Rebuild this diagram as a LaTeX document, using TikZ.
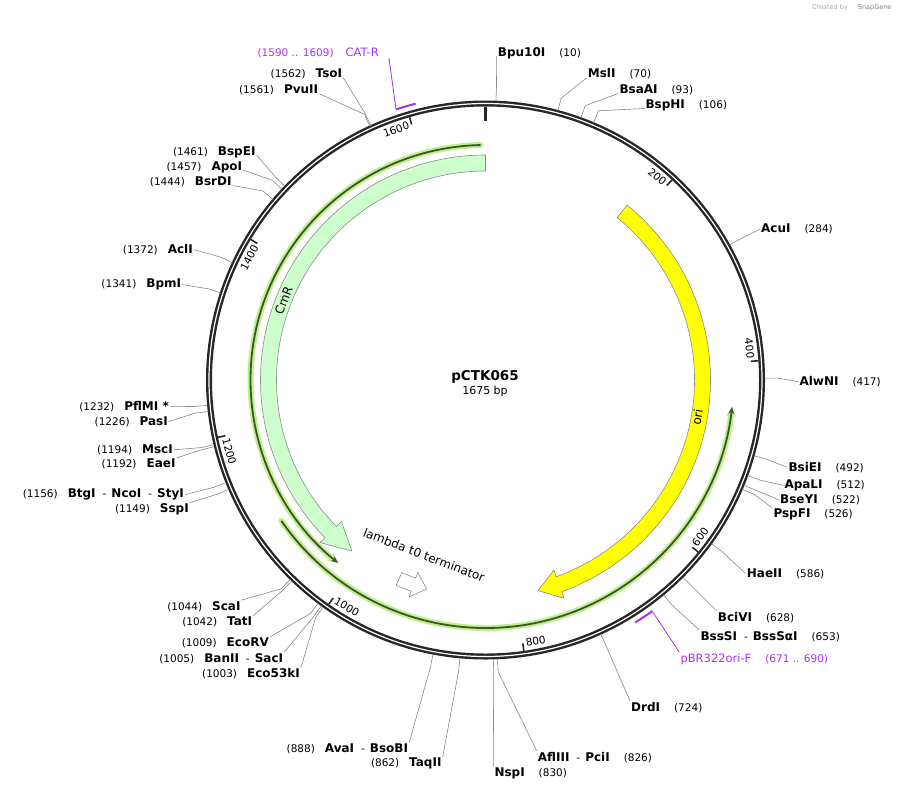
\documentclass[tikz,border=0pt]{standalone}
\usepackage{fontspec}
\setmainfont{DejaVu Sans}
\usetikzlibrary{arrows.meta}

\definecolor{cmrgreen}{RGB}{204,255,204}
\definecolor{oriyellow}{RGB}{255,255,0}
\definecolor{glowgreen}{RGB}{190,240,140}
\definecolor{featline}{RGB}{60,85,45}
\definecolor{primer}{RGB}{165,50,240}
\definecolor{leadgray}{RGB}{135,135,135}

\newcommand{\nm}[1]{{\fontsize{12}{14}\selectfont\bfseries #1}}
\newcommand{\dsh}{\hspace{7pt}-\hspace{5pt}}

\begin{document}
\begin{tikzpicture}[x=1pt, y=1pt,
    site/.style={font=\fontsize{10.5}{12}\selectfont, inner sep=1pt},
    leader/.style={draw=leadgray, line width=0.6pt},
    featbox/.style={draw=black!45, line width=0.6pt},
    featlabel/.style={font=\fontsize{12}{14}\selectfont, inner sep=0pt},
    ticklabel/.style={font=\fontsize{10.5}{12}\selectfont, inner sep=0pt},
    tickmark/.style={line width=1.6pt, black!85},
    glow/.style={glowgreen, line width=6pt, line cap=round, -{Stealth[length=10pt,width=10pt]}},
    featarrow/.style={featline, line width=1.8pt, -{Stealth[length=7pt,width=6pt]}},
    primerlead/.style={draw=primer, line width=0.8pt}]
		\useasboundingbox (0,0) rectangle (899,-790);

		% title
		\node[font=\fontsize{13.5}{15}\selectfont\bfseries] (title) at (485,-376.7) {pCTK065};
		\node[font=\fontsize{11}{13}\selectfont] (size) at (485,-391.7) {1675 bp};
		\node[font=\fontsize{6.5}{7}\selectfont, text=black!35, anchor=east] (credit) at (895,-8) {Created by \hspace{8pt}\textcolor{black!50}{SnapGene}};

		% enzymes on the right
		\node[site, anchor=base west] (bpu) at (496.7,-56.2) {\nm{Bpu10I}\hspace{14pt}(10)};
		\node[site, anchor=base west] (msl) at (586.7,-77.8) {\nm{MslI}\hspace{14pt}(70)};
		\node[site, anchor=base west] (bsaa) at (618.3,-93.5) {\nm{BsaAI}\hspace{14pt}(93)};
		\node[site, anchor=base west] (bsph) at (644.3,-108.5) {\nm{BspHI}\hspace{14pt}(106)};
		\node[site, anchor=base west] (acu) at (760,-232.8) {\nm{AcuI}\hspace{14pt}(284)};
		\node[site, anchor=base west] (alwn) at (798.3,-385.5) {\nm{AlwNI}\hspace{14pt}(417)};
		\node[site, anchor=base west] (bsie) at (787.3,-471.2) {\nm{BsiEI}\hspace{14pt}(492)};
		\node[site, anchor=base west] (apal) at (783.3,-488.5) {\nm{ApaLI}\hspace{14pt}(512)};
		\node[site, anchor=base west] (bsey) at (779,-503.5) {\nm{BseYI}\hspace{14pt}(522)};
		\node[site, anchor=base west] (pspf) at (772.3,-517.8) {\nm{PspFI}\hspace{14pt}(526)};
		\node[site, anchor=base west] (hae) at (745.7,-577.2) {\nm{HaeII}\hspace{14pt}(586)};
		\node[site, anchor=base west] (bci) at (716.7,-621.2) {\nm{BciVI}\hspace{14pt}(628)};
		\node[site, anchor=base west] (bsss) at (699.3,-640.2) {\nm{BssSI}\dsh\nm{BssSαI}\hspace{14pt}(653)};
		\node[site, anchor=base west] (drd) at (630,-711.2) {\nm{DrdI}\hspace{14pt}(724)};
		\node[site, anchor=base west] (afl) at (536.7,-761.2) {\nm{AflIII}\dsh\nm{PciI}\hspace{14pt}(826)};
		\node[site, anchor=base west] (nsp) at (493.3,-776.2) {\nm{NspI}\hspace{14pt}(830)};

		% enzymes on the left
		\node[site, anchor=base east] (ava) at (409.3,-752.2) {(888)\hspace{10pt}\nm{AvaI}\dsh\nm{BsoBI}};
		\node[site, anchor=base east] (taq) at (442.7,-766.8) {(862)\hspace{10pt}\nm{TaqII}};
		\node[site, anchor=base east] (eco53) at (301,-677.8) {(1003)\hspace{10pt}\nm{Eco53kI}};
		\node[site, anchor=base east] (ban) at (284.3,-662.2) {(1005)\hspace{10pt}\nm{BanII}\dsh\nm{SacI}};
		\node[site, anchor=base east] (ecorv) at (270,-646.8) {(1009)\hspace{10pt}\nm{EcoRV}};
		\node[site, anchor=base east] (tat) at (253.3,-625.5) {(1042)\hspace{10pt}\nm{TatI}};
		\node[site, anchor=base east] (sca) at (241.7,-610.2) {(1044)\hspace{10pt}\nm{ScaI}};
		\node[site, anchor=base east] (ssp) at (190,-512.8) {(1149)\hspace{10pt}\nm{SspI}};
		\node[site, anchor=base east] (btg) at (185,-497.8) {(1156)\hspace{10pt}\nm{BtgI}\dsh\nm{NcoI}\dsh\nm{StyI}};
		\node[site, anchor=base east] (eae) at (176.7,-467.8) {(1192)\hspace{10pt}\nm{EaeI}};
		\node[site, anchor=base east] (msc) at (174,-453.5) {(1194)\hspace{10pt}\nm{MscI}};
		\node[site, anchor=base east] (pas) at (169,-425.2) {(1226)\hspace{10pt}\nm{PasI}};
		\node[site, anchor=base east] (pflm) at (170,-410.2) {(1232)\hspace{10pt}\nm{PflMI *}};
		\node[site, anchor=base east] (bpm) at (182.3,-287.8) {(1341)\hspace{10pt}\nm{BpmI}};
		\node[site, anchor=base east] (acl) at (194,-253.5) {(1372)\hspace{10pt}\nm{AclI}};
		\node[site, anchor=base east] (bsrd) at (232.7,-185.5) {(1444)\hspace{10pt}\nm{BsrDI}};
		\node[site, anchor=base east] (apo) at (243.3,-170.2) {(1457)\hspace{10pt}\nm{ApoI}};
		\node[site, anchor=base east] (bspe) at (256.7,-155.2) {(1461)\hspace{10pt}\nm{BspEI}};
		\node[site, anchor=base east] (pvu) at (319.3,-93.8) {(1561)\hspace{10pt}\nm{PvuII}};
		\node[site, anchor=base east] (tso) at (343.3,-77.8) {(1562)\hspace{10pt}\nm{TsoI}};

		% primers
		\node[site, anchor=base east, text=primer] (catr) at (380,-56.2) {(1590 .. 1609)\hspace{12pt}{\fontsize{11.5}{13}\selectfont CAT-R}};
		\node[site, anchor=base west, text=primer] (pbr) at (679.3,-662.2) {{\fontsize{11.5}{13}\selectfont pBR322ori-F}\hspace{14pt}(671 .. 690)};

		\node[featlabel, rotate=-21] (termlab) at (424,-555) {lambda t0 terminator};

		\begin{scope}[shift={(485.5,-380)}]
			% features
			\draw[featbox, fill=cmrgreen] (90:225) arc[start angle=90, end angle=224.5, radius=225pt]
				-- (224.5:232) -- (232:217) -- (224.5:202) -- (224.5:209)
				arc[start angle=224.5, end angle=90, radius=209pt] -- cycle;
			\draw[featbox, fill=oriyellow] (51:225) arc[start angle=51, end angle=-70.2, radius=225pt]
				-- (-70.2:232) -- (-76:217) -- (-70.2:202) -- (-70.2:209)
				arc[start angle=-70.2, end angle=51, radius=209pt] -- cycle;
			\draw[featbox, fill=white] (246.5:224) arc[start angle=246.5, end angle=250.6, radius=224pt]
				-- (250.6:230) -- (254.3:217) -- (250.6:204) -- (250.6:210)
				arc[start angle=250.6, end angle=246.5, radius=210pt] -- cycle;
			\node[featlabel, rotate=68.5] (cmrlab) at (158.5:217) {CmR};
			\node[featlabel, rotate=80.1] (orilab) at (-9.9:215) {ori};

			\draw[glow] (91.2:235) arc[start angle=91.2, end angle=231.1, radius=235pt];
			\draw[featarrow] (91.2:235) arc[start angle=91.2, end angle=231.1, radius=235pt];
			\draw[glow] (214.6:248) arc[start angle=214.6, end angle=353.75, radius=248pt];
			\draw[featarrow] (214.6:248) arc[start angle=214.6, end angle=353.75, radius=248pt];

			% backbone
			\draw[line width=6pt, black!85] (0,0) circle[radius=276.5pt];
			\draw[line width=1.2pt, white] (0,0) circle[radius=276.5pt];
			\draw[line width=2.6pt, black!85] (90:273.5) -- (90:259.5);
			\foreach \a/\c/\r/\t in {47.01/49.8/-40.2/200, 4.03/6.83/-83.2/400, -38.96/-36.16/53.84/600,
				-81.94/-79.14/10.86/800, -124.93/-121.43/-31.43/1000, -167.91/-164.41/-74.41/1200,
				149.10/152.6/62.6/1400, 106.12/109.62/19.62/1600} {
				\draw[tickmark] (\a:273.5) -- (\a:266);
				\node[ticklabel, rotate=\r] (tick\t) at (\c:266) {\t};
			}

			% primers
			\coordinate (catrend) at (108.3:285);
			\coordinate (pbrend) at (-54.2:285);
			\draw[primer, line width=2pt] (104.2:285) arc[start angle=104.2, end angle=108.3, radius=285pt];
			\draw[primer, line width=2pt] (-54.2:285) arc[start angle=-54.2, end angle=-58.3, radius=285pt];
			\draw[primerlead] ([xshift=9pt,yshift=-2pt]catr.base east) -- (catrend);
			\draw[primerlead] (pbrend) -- (pbr.north west);

			% cut sites
			\foreach \n/\a/\p in {bpu/87.85/base west, msl/74.96/base west, bsaa/70.01/base west,
				bsph/67.22/base west, acu/28.96/west, alwn/0.38/west, bsie/-15.74/west, apal/-20.04/west,
				bsey/-22.19/west, pspf/-23.05/north west, hae/-35.95/west, bci/-44.97/north west,
				bsss/-50.35/north west, drd/-65.61/north west, afl/-87.53/north west, nsp/-88.39/north west,
				ava/-100.85/north east, taq/-95.27/north east, eco53/-125.57/north east, ban/-126.00/north east,
				ecorv/-126.86/north east, tat/-133.95/north east, sca/-134.38/north east, ssp/-156.95/north east,
				btg/-158.45/east, eae/-166.19/north east, msc/-166.62/east, pas/-173.50/east, pflm/-174.79/east,
				bpm/161.79/east, acl/155.12/east, bsrd/139.65/base east, apo/136.85/base east,
				bspe/135.99/base east, pvu/114.50/base east, tso/114.29/base east}
				\draw[leader] (\n.\p) -- (\a:292) -- (\a:279);
		\end{scope}
	\end{tikzpicture}
\end{document}
